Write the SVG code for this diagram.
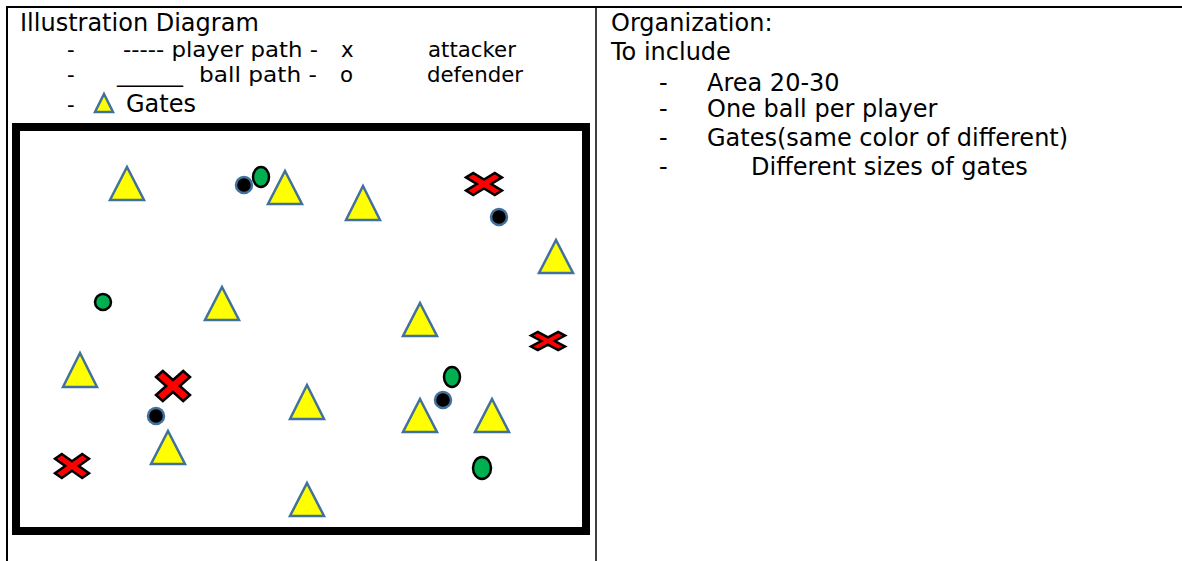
<svg xmlns="http://www.w3.org/2000/svg" width="1182" height="561" viewBox="0 0 1182 561">
<style>
text{font-family:"DejaVu Sans",Verdana,sans-serif;fill:#000}
.h{font-size:24px}
.l{font-size:21.3px}
.gate{fill:#FFFF00;stroke:#41719C;stroke-width:2.5;stroke-linejoin:miter}
.def{fill:#000;stroke:#41719C;stroke-width:2.5}
.ball{fill:#00B050;stroke:#000;stroke-width:2.5}
.att{fill:#FF0000;stroke:#000;stroke-width:2.5;stroke-linejoin:miter}
</style>
<rect width="1182" height="561" fill="#fff"/>
<g id="table" stroke="#000" fill="none">
<line x1="6" y1="7" x2="1182" y2="7" stroke-width="2"/>
<line x1="7" y1="6" x2="7" y2="561" stroke-width="2"/>
<line x1="596" y1="7" x2="596" y2="561" stroke-width="1.5"/>
</g>
<g id="legend">
<text class="h" x="20" y="31">Illustration Diagram</text>
<text class="l" x="67" y="57">-</text>
<text class="l" x="123" y="57" textLength="195" lengthAdjust="spacingAndGlyphs">----- player path -</text>
<text class="l" x="341" y="57">x</text>
<text class="l" x="428" y="57">attacker</text>
<text class="l" x="67" y="82">-</text>
<text class="l" x="117" y="82" textLength="66" lengthAdjust="spacingAndGlyphs">______</text>
<text class="l" x="199" y="82" textLength="118" lengthAdjust="spacingAndGlyphs">ball path -</text>
<text class="l" x="340" y="82">o</text>
<text class="l" x="427" y="82">defender</text>
<text class="l" x="67" y="112">-</text>
<polygon class="gate" points="104,94 113,112 95,112" stroke-width="2"/>
<text class="h" x="126" y="112">Gates</text>
</g>
<g id="organization">
<text class="h" x="611" y="31">Organization:</text>
<text class="h" x="611" y="60">To include</text>
<text class="h" x="659" y="91">-</text>
<text class="h" x="707" y="91">Area 20-30</text>
<text class="h" x="659" y="117">-</text>
<text class="h" x="707" y="117">One ball per player</text>
<text class="h" x="659" y="146">-</text>
<text class="h" x="707" y="146">Gates(same color of different)</text>
<text class="h" x="659" y="175">-</text>
<text class="h" x="751" y="175">Different sizes of gates</text>
</g>
<g id="field">
<rect x="16" y="127" width="570" height="404" fill="#fff" stroke="#000" stroke-width="8"/>
</g>
<g id="gates">
<polygon class="gate" points="127,167 144,200 110,200"/>
<polygon class="gate" points="285,171 302,204 268,204"/>
<polygon class="gate" points="363,186 380,220 346,220"/>
<polygon class="gate" points="556,240 573,273 539,273"/>
<polygon class="gate" points="222,287 239,320 205,320"/>
<polygon class="gate" points="420,303 437,336 403,336"/>
<polygon class="gate" points="80,353 97,387 63,387"/>
<polygon class="gate" points="307,385 324,419 290,419"/>
<polygon class="gate" points="420,399 437,432 403,432"/>
<polygon class="gate" points="492,399 509,432 475,432"/>
<polygon class="gate" points="168,431 185,464 151,464"/>
<polygon class="gate" points="307,483 324,516 290,516"/>
</g>
<g id="defenders">
<circle class="def" cx="244" cy="185" r="8"/>
<circle class="def" cx="499" cy="217" r="8"/>
<circle class="def" cx="156" cy="416" r="8"/>
<circle class="def" cx="443" cy="400" r="8"/>
</g>
<g id="balls">
<ellipse class="ball" cx="261" cy="177" rx="8" ry="10"/>
<circle class="ball" cx="103" cy="302" r="8"/>
<ellipse class="ball" cx="452" cy="377" rx="8" ry="10"/>
<ellipse class="ball" cx="482" cy="468" rx="9" ry="11"/>
</g>
<g id="attackers">
<polygon class="att" points="466,177.4 473.2,173 484,179.6 494.8,173 502,177.4 491.2,184 502,190.6 494.8,195 484,188.4 473.2,195 466,190.6 476.8,184"/>
<polygon class="att" points="156,377 162.8,371 173,380 183.2,371 190,377 179.8,386 190,395 183.2,401 173,392 162.8,401 156,395 166.2,386"/>
<polygon class="att" points="531,335.6 537.8,332 548,337.4 558.2,332 565,335.6 554.8,341 565,346.4 558.2,350 548,344.6 537.8,350 531,346.4 541.2,341"/>
<polygon class="att" points="55,458.8 61.8,454 72,461.2 82.2,454 89,458.8 78.8,466 89,473.2 82.2,478 72,470.8 61.8,478 55,473.2 65.2,466"/>
</g>
</svg>
